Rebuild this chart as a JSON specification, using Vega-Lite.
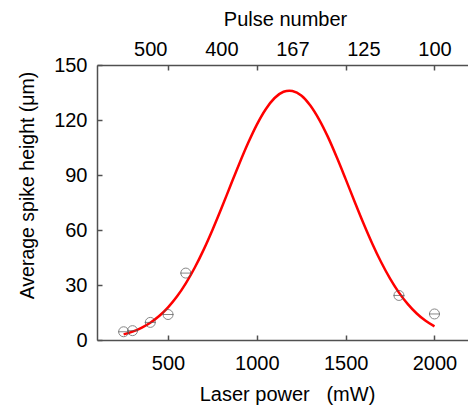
{
  "$schema": "https://vega.github.io/schema/vega-lite/v6.json",
  "autosize": "none",
  "padding": {"left": 97, "top": 65, "right": 0, "bottom": 66},
  "width": 373,
  "height": 275,
  "background": "white",
  "config": {
    "view": {"stroke": null},
    "font": "Liberation Sans",
    "axis": {
      "grid": false,
      "domainColor": "#505050",
      "domainWidth": 1.5,
      "tickColor": "#505050",
      "tickWidth": 1.5,
      "tickSize": -5,
      "labelFont": "Liberation Sans",
      "labelFontSize": 20,
      "labelColor": "black",
      "titleFont": "Liberation Sans",
      "titleFontSize": 20,
      "titleFontWeight": "normal",
      "titleColor": "black",
      "labelOverlap": false,
      "labelFlush": false
    }
  },
  "datasets": {
    "curve": [
      {"power": 250, "height": 3.05},
      {"power": 300, "height": 4.54},
      {"power": 350, "height": 6.60},
      {"power": 400, "height": 9.38},
      {"power": 450, "height": 13.06},
      {"power": 500, "height": 17.79},
      {"power": 550, "height": 23.69},
      {"power": 600, "height": 30.89},
      {"power": 650, "height": 39.40},
      {"power": 700, "height": 49.16},
      {"power": 750, "height": 60.04},
      {"power": 800, "height": 71.73},
      {"power": 850, "height": 83.86},
      {"power": 900, "height": 95.91},
      {"power": 950, "height": 107.3},
      {"power": 1000, "height": 117.5},
      {"power": 1050, "height": 125.9},
      {"power": 1100, "height": 132.0},
      {"power": 1150, "height": 135.4},
      {"power": 1183, "height": 136.0},
      {"power": 1200, "height": 135.8},
      {"power": 1250, "height": 133.4},
      {"power": 1300, "height": 128.1},
      {"power": 1350, "height": 120.4},
      {"power": 1400, "height": 110.8},
      {"power": 1450, "height": 99.66},
      {"power": 1500, "height": 87.75},
      {"power": 1550, "height": 75.59},
      {"power": 1600, "height": 63.70},
      {"power": 1650, "height": 52.54},
      {"power": 1700, "height": 42.39},
      {"power": 1750, "height": 33.47},
      {"power": 1800, "height": 25.86},
      {"power": 1850, "height": 19.54},
      {"power": 1900, "height": 14.45},
      {"power": 1950, "height": 10.45},
      {"power": 2000, "height": 7.40}
    ],
    "measured": [
      {"power": 250, "height": 4.5},
      {"power": 300, "height": 5.1},
      {"power": 400, "height": 9.6},
      {"power": 500, "height": 13.9},
      {"power": 600, "height": 36.5},
      {"power": 1800, "height": 24.3},
      {"power": 2000, "height": 14.2}
    ]
  },
  "layer": [
    {
      "data": {"name": "curve"},
      "mark": {"type": "line", "color": "#ff0000", "strokeWidth": 2.5, "interpolate": "monotone"},
      "encoding": {
        "x": {
          "field": "power", "type": "quantitative",
          "scale": {"domain": [100, 2200], "nice": false, "zero": false},
          "axis": {
            "orient": "bottom",
            "values": [500, 1000, 1500, 2000],
            "format": "d",
            "labelPadding": 18,
            "labelAlign": "center",
            "title": "Laser power\u00a0\u00a0\u00a0(mW)",
            "titleBaseline": "alphabetic",
            "titleY": 60,
            "titleX": 190
          }
        },
        "y": {
          "field": "height", "type": "quantitative",
          "scale": {"domain": [0, 150], "nice": false},
          "axis": {
            "values": [0, 30, 60, 90, 120, 150],
            "labelPadding": 15,
            "title": "Average spike height (μm)",
            "titleFontSize": 19.5,
            "titleBaseline": "alphabetic",
            "titleX": -64,
            "titleY": 120
          }
        }
      }
    },
    {
      "data": {"name": "measured"},
      "mark": {"type": "point", "shape": "circle", "filled": false, "stroke": "#555555", "strokeWidth": 1, "size": 100},
      "encoding": {
        "x": {
          "field": "power", "type": "quantitative",
          "axis": {
            "orient": "top",
            "values": [400, 500, 800, 1000, 1200, 1500, 1600, 2000],
            "labelExpr": "datum.value == 400 ? '500' : datum.value == 800 ? '400' : datum.value == 1200 ? '167' : datum.value == 1600 ? '125' : datum.value == 2000 ? '100' : ''",
            "labelAlign": "center",
            "labelFlush": false,
            "tickOpacity": {"condition": {"test": "datum.value % 500 == 0", "value": 1}, "value": 0},
            "labelPadding": 11,
            "title": "Pulse number",
            "titleBaseline": "alphabetic",
            "titleY": -40,
            "titleX": 188
          }
        },
        "y": {"field": "height", "type": "quantitative"}
      }
    },
    {
      "data": {"name": "measured"},
      "mark": {"type": "tick", "orient": "horizontal", "color": "#555555", "thickness": 1, "size": 11},
      "encoding": {
        "x": {"field": "power", "type": "quantitative", "axis": null},
        "y": {"field": "height", "type": "quantitative"}
      }
    }
  ],
  "resolve": {"axis": {"x": "independent"}}
}
